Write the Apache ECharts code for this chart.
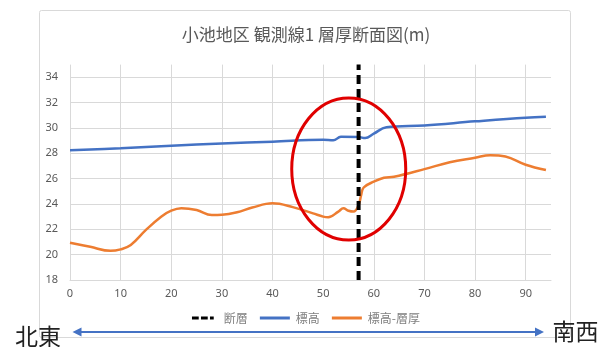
<!DOCTYPE html>
<html>
<head>
<meta charset="utf-8">
<script src="https://cdn.jsdelivr.net/npm/echarts@6/dist/echarts.min.js"></script>
<style>
  html, body { margin: 0; padding: 0; background: #ffffff; }
  #chart { width: 612px; height: 347px; }
</style>
</head>
<body>
<div id="chart"></div>
<script>
// 距離 (m) と標高 (m)
const elevX = [0, 10, 20, 30, 40, 50, 52, 53.5, 57, 58.3, 60, 62.5, 70, 80, 90, 94];
const elevY = [28.24, 28.4, 28.6, 28.78, 28.92, 29.07, 29.02, 29.3, 29.28, 29.2, 29.55, 30.05, 30.2, 30.52, 30.81, 30.88];

// 標高-層厚 (m)
const baseX = [0, 4, 8, 10, 12, 15, 18, 20, 22, 25, 28, 30, 33, 36, 40, 44, 48, 50, 51, 53, 54, 55, 56, 57, 57.5, 58, 60, 62, 64, 70, 75, 80, 83, 86, 90, 94];
const baseY = [20.94, 20.62, 20.3, 20.42, 20.76, 21.95, 23.0, 23.47, 23.66, 23.52, 23.13, 23.15, 23.35, 23.72, 24.05, 23.75, 23.26, 23.0, 22.95, 23.4, 23.66, 23.47, 23.4, 23.9, 24.7, 25.3, 25.76, 26.07, 26.15, 26.75, 27.3, 27.65, 27.85, 27.75, 27.1, 26.68];

// 断層の位置
const faultX = [57, 57];
const faultY = [18, 35];

// 注目範囲 (楕円の中心, データ座標)
const focusCenter = [55.05, 26.76];

const titleText = '小池地区 観測線1 層厚断面図(m)';
const legendNames = ['断層', '標高', '標高-層厚'];

const pairs = (xs, ys) => xs.map((x, i) => [x, ys[i]]);

const gridColor = '#d9d9d9';
const textColor = '#595959';

// 凡例アイコン: 破線と実線
const dashIcon = 'path://M0,0h9v4h-9z M12,0h9v4h-9z M24,0h5v4h-5z';
const solidIcon = 'path://M0,0h30v3h-30z';

const chart = echarts.init(document.getElementById('chart'), null, { renderer: 'canvas' });

const option = {
  backgroundColor: '#ffffff',
  animation: false,
  title: {
    text: titleText,
    left: 'center',
    top: 21,
    textStyle: { color: textColor, fontSize: 17, fontWeight: 'normal', fontFamily: 'Noto Sans CJK JP' }
  },
  legend: {
    data: [
      { name: legendNames[0], icon: dashIcon },
      { name: legendNames[1], icon: solidIcon },
      { name: legendNames[2], icon: solidIcon }
    ],
    bottom: 18,
    left: 'center',
    itemWidth: 32,
    itemHeight: 3,
    itemGap: 12,
    textStyle: { color: '#7f7f7f', fontSize: 12, fontFamily: 'Noto Sans CJK JP' }
  },
  grid: { left: 70, right: 61, top: 64.6, bottom: 67 },
  xAxis: {
    type: 'value',
    min: 0,
    max: 95,
    interval: 10,
    axisLine: { show: true, lineStyle: { color: gridColor } },
    axisTick: { show: false },
    axisLabel: { color: textColor, fontSize: 11, margin: 8, showMaxLabel: false, fontFamily: 'Noto Sans' },
    splitLine: {
      show: true,
      showMaxLine: false,
      lineStyle: { color: [gridColor, gridColor, gridColor, gridColor, gridColor, gridColor, gridColor, gridColor, gridColor, gridColor, 'transparent'], width: 1 }
    }
  },
  yAxis: {
    type: 'value',
    min: 18,
    max: 35,
    interval: 2,
    axisLine: { show: false },
    axisTick: { show: false },
    axisLabel: { color: textColor, fontSize: 11, margin: 12, showMaxLabel: false, fontFamily: 'Noto Sans' },
    splitLine: {
      show: true,
      showMaxLine: false,
      lineStyle: { color: [gridColor, gridColor, gridColor, gridColor, gridColor, gridColor, gridColor, gridColor, gridColor, 'transparent'], width: 1 }
    }
  },
  series: [
    {
      name: legendNames[0],
      type: 'line',
      data: pairs(faultX, faultY),
      symbol: 'none',
      clip: false,
      z: 5,
      itemStyle: { color: '#000000' },
      lineStyle: { color: '#000000', width: 4, type: [9, 5] }
    },
    {
      name: legendNames[1],
      type: 'line',
      data: pairs(elevX, elevY),
      symbol: 'none',
      smooth: 0.4,
      z: 3,
      itemStyle: { color: '#4472C4' },
      lineStyle: { color: '#4472C4', width: 2.5 }
    },
    {
      name: legendNames[2],
      type: 'line',
      data: pairs(baseX, baseY),
      symbol: 'none',
      smooth: 0.4,
      z: 3,
      itemStyle: { color: '#ED7D31' },
      lineStyle: { color: '#ED7D31', width: 2.5 }
    }
  ]
};

chart.setOption(option);

// 枠・方位矢印・注目範囲の楕円
const c = chart.convertToPixel({ gridIndex: 0 }, focusCenter);
const ay = 332;
const ax0 = 72.5;
const ax1 = 544;
const arrowColor = '#4472C4';

chart.setOption({
  graphic: [
    {
      type: 'rect',
      silent: true,
      z: -10,
      shape: { x: 39.5, y: 10.5, width: 531, height: 327, r: 2 },
      style: { fill: 'none', stroke: '#d9d9d9', lineWidth: 1 }
    },
    {
      type: 'ellipse',
      silent: true,
      z: 100,
      shape: { cx: c[0], cy: c[1], rx: 57, ry: 71 },
      style: { fill: 'none', stroke: '#e00000', lineWidth: 3 }
    },
    {
      type: 'line',
      silent: true,
      z: 100,
      shape: { x1: ax0 + 6, y1: ay, x2: ax1 - 6, y2: ay },
      style: { stroke: arrowColor, lineWidth: 2 }
    },
    {
      type: 'polygon',
      silent: true,
      z: 100,
      shape: { points: [[ax0, ay], [ax0 + 9, ay - 4.5], [ax0 + 9, ay + 4.5]] },
      style: { fill: arrowColor }
    },
    {
      type: 'polygon',
      silent: true,
      z: 100,
      shape: { points: [[ax1, ay], [ax1 - 9, ay - 4.5], [ax1 - 9, ay + 4.5]] },
      style: { fill: arrowColor }
    },
    {
      type: 'text',
      silent: true,
      z: 100,
      x: 38,
      y: 336,
      style: { text: '北東', fill: '#222222', fontSize: 23, fontFamily: 'Noto Sans CJK JP', align: 'center', verticalAlign: 'middle' }
    },
    {
      type: 'text',
      silent: true,
      z: 100,
      x: 575.5,
      y: 331,
      style: { text: '南西', fill: '#222222', fontSize: 23, fontFamily: 'Noto Sans CJK JP', align: 'center', verticalAlign: 'middle' }
    }
  ]
});
</script>
</body>
</html>
